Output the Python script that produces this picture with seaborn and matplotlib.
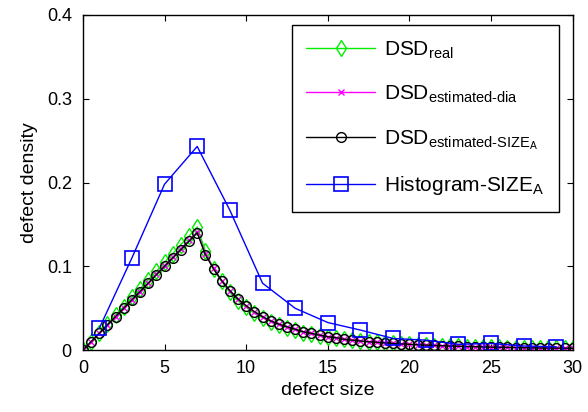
import numpy as np
import pandas as pd
import seaborn as sns
import matplotlib.pyplot as plt
from matplotlib.ticker import FuncFormatter

# dense estimates, x = 0, 0.5, ..., 30
size_fine = np.arange(0, 30.5, 0.5)
dsd_real = [0.000, 0.010, 0.021, 0.031, 0.042, 0.052, 0.063, 0.073, 0.084, 0.094,
            0.105, 0.115, 0.126, 0.136, 0.147,
            0.118, 0.097, 0.082, 0.069, 0.059, 0.051, 0.044, 0.039, 0.034, 0.030,
            0.027, 0.024, 0.021, 0.019, 0.017, 0.016, 0.014, 0.013, 0.012, 0.011,
            0.010, 0.0093, 0.0086, 0.0080, 0.0074, 0.0069, 0.0064, 0.0060, 0.0056, 0.0052,
            0.0049, 0.0046, 0.0043, 0.0041, 0.0038, 0.0036, 0.0034, 0.0032, 0.0031, 0.0029,
            0.0028, 0.0026, 0.0025, 0.0024, 0.0023, 0.0022]
dsd_est_dia = [0.000, 0.010, 0.020, 0.030, 0.040, 0.050, 0.060, 0.070, 0.080, 0.091,
               0.101, 0.111, 0.121, 0.131, 0.141,
               0.115, 0.098, 0.083, 0.071, 0.061, 0.053, 0.046, 0.040, 0.035, 0.031,
               0.028, 0.025, 0.022, 0.020, 0.018, 0.016, 0.015, 0.013, 0.012, 0.011,
               0.010, 0.0094, 0.0087, 0.0081, 0.0075, 0.0070, 0.0065, 0.0061, 0.0057, 0.0053,
               0.0050, 0.0047, 0.0044, 0.0042, 0.0039, 0.0037, 0.0035, 0.0033, 0.0031, 0.0030,
               0.0028, 0.0027, 0.0026, 0.0025, 0.0024, 0.0023]
dsd_est_size = [0.000, 0.010, 0.020, 0.030, 0.040, 0.050, 0.060, 0.070, 0.080, 0.090,
                0.100, 0.110, 0.120, 0.130, 0.140,
                0.114, 0.097, 0.083, 0.071, 0.061, 0.053, 0.046, 0.040, 0.035, 0.031,
                0.028, 0.025, 0.022, 0.020, 0.018, 0.016, 0.015, 0.013, 0.012, 0.011,
                0.010, 0.0094, 0.0087, 0.0081, 0.0075, 0.0070, 0.0065, 0.0061, 0.0057, 0.0053,
                0.0050, 0.0047, 0.0044, 0.0042, 0.0039, 0.0037, 0.0035, 0.0033, 0.0031, 0.0030,
                0.0028, 0.0027, 0.0026, 0.0025, 0.0024, 0.0023]

# histogram bins
size_bins = [1, 3, 5, 7, 9, 11, 13, 15, 17, 19, 21, 23, 25, 27, 29]
hist_size = [0.026, 0.110, 0.198, 0.243, 0.167, 0.080, 0.050, 0.033, 0.024,
             0.014, 0.012, 0.007, 0.008, 0.005, 0.004]

sns.set_style('ticks')
plt.rcParams['font.family'] = ['Liberation Sans', 'DejaVu Sans']
plt.rcParams['mathtext.fontset'] = 'custom'
plt.rcParams['mathtext.rm'] = 'Liberation Sans'
plt.rcParams['mathtext.it'] = 'Liberation Sans'
plt.rcParams['text.color'] = 'black'
plt.rcParams['axes.labelcolor'] = 'black'

fig = plt.figure(figsize=(5.88, 4.12), dpi=100)
ax = fig.add_axes([0.141, 0.150, 0.833, 0.814])

sns.lineplot(x=size_fine, y=dsd_real, ax=ax, color='#00ee00', lw=1, marker='d',
             markersize=8, markerfacecolor='none', markeredgecolor='#00ee00',
             markeredgewidth=1, label=r'DSD$_{\rm real}$')
sns.lineplot(x=size_fine, y=dsd_est_dia, ax=ax, color='#ff00ff', lw=1, marker='x',
             markersize=4, markeredgecolor='#ff00ff', markeredgewidth=1,
             label=r'DSD$_{\rm estimated\text{-}dia}$')
sns.lineplot(x=size_fine, y=dsd_est_size, ax=ax, color='black', lw=1, marker='o',
             markersize=7, markerfacecolor='none', markeredgecolor='black',
             markeredgewidth=1, label=r'DSD$_{\rm estimated\text{-}SIZE_A}$')
sns.lineplot(x=size_bins, y=hist_size, ax=ax, color='#0000ff', lw=1, marker='s',
             markersize=10, markerfacecolor='none', markeredgecolor='#0000ff',
             markeredgewidth=1.2, label=r'Histogram-SIZE$_{\rm A}$')

ax.set_xlim(0, 30)
ax.set_ylim(0, 0.4)
ax.set_xticks([0, 5, 10, 15, 20, 25, 30])
ax.set_yticks([0, 0.1, 0.2, 0.3, 0.4])
ax.yaxis.set_major_formatter(FuncFormatter(lambda v, p: '0' if v == 0 else f'{v:.1f}'))
ax.tick_params(direction='in', top=True, right=True, labelsize=13, length=4,
               color='black', labelcolor='black')
ax.tick_params(axis='y', pad=8)
ax.tick_params(axis='x', pad=7)
for s in ax.spines.values():
    s.set_visible(True)
    s.set_color('black')
    s.set_linewidth(1)
ax.set_xlabel('defect size', fontsize=14, labelpad=4)
ax.set_ylabel('defect density', fontsize=14, labelpad=6)

leg = ax.legend(loc='upper right', bbox_to_anchor=(0.971, 0.970), borderaxespad=0,
                fontsize=15, frameon=True, fancybox=False, edgecolor='black',
                framealpha=1, handlelength=3.3, handletextpad=0.4,
                labelspacing=1.1, borderpad=0.7)
leg.get_frame().set_linewidth(1)

fig.savefig('out.png', dpi=100)
